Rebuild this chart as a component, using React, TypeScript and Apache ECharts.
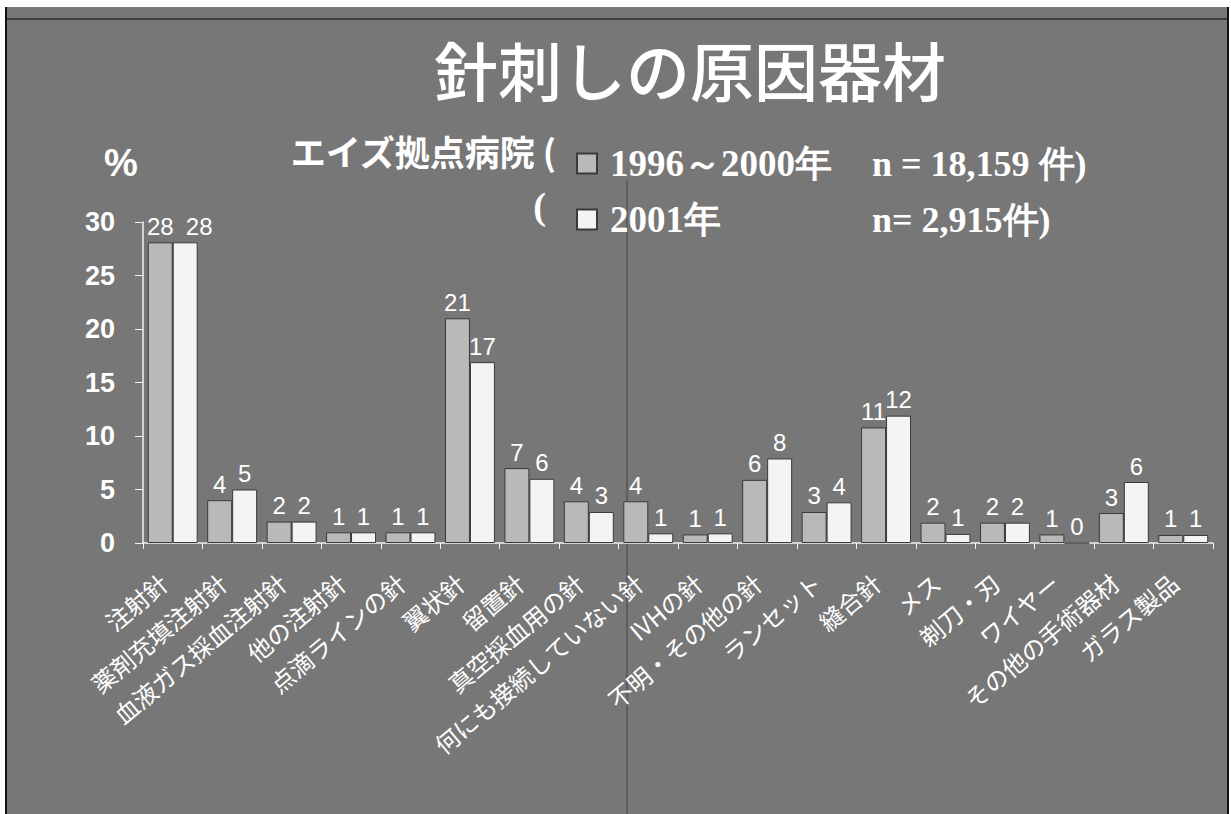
import React, { useEffect, useRef } from "react";
import * as echarts from "echarts";

const categories = [
  "注射針",
  "薬剤充填注射針",
  "血液ガス採血注射針",
  "他の注射針",
  "点滴ラインの針",
  "翼状針",
  "留置針",
  "真空採血用の針",
  "何にも接続していない針",
  "IVHの針",
  "不明・その他の針",
  "ランセット",
  "縫合針",
  "メス",
  "剃刀・刃",
  "ワイヤー",
  "その他の手術器材",
  "ガラス製品",
];

// bar heights (%)
const values1996 = [28.1, 4.0, 2.0, 1.0, 1.0, 21.0, 7.0, 3.9, 3.9, 0.8, 5.9, 2.9, 10.8, 1.9, 1.9, 0.8, 2.8, 0.75];
const values2001 = [28.1, 5.0, 2.0, 1.0, 1.0, 16.9, 6.0, 2.9, 0.9, 0.9, 7.9, 3.8, 11.9, 0.85, 1.9, 0, 5.7, 0.75];

// printed value labels
const labels1996 = [28, 4, 2, 1, 1, 21, 7, 4, 4, 1, 6, 3, 11, 2, 2, 1, 3, 1];
const labels2001 = [28, 5, 2, 1, 1, 17, 6, 3, 1, 1, 8, 4, 12, 1, 2, 0, 6, 1];

const yTicks = [0, 5, 10, 15, 20, 25, 30];

const BG = "#777777";
const GRAY_BAR = "#b9b9b9";
const WHITE_BAR = "#f4f4f4";
const JP = "'Noto Sans CJK JP', 'Noto Sans', sans-serif";
const SERIF = "'Liberation Serif', 'DejaVu Serif', serif";
const SANS = "'Liberation Sans', Arial, sans-serif";

export default function App() {
  const ref = useRef<HTMLDivElement>(null);

  useEffect(() => {
    if (!ref.current) return;
    const chart = echarts.init(ref.current, null, { renderer: "svg" });

    const legendText = (name: string) => {
      if (name === "1996～2000年") return "{a|1996～2000年}{b|n = 18,159 件)}";
      return "{a|2001年}{b|n= 2,915件)}";
    };

    const legendBase = {
      orient: "horizontal" as const,
      itemWidth: 20,
      itemHeight: 20,
      icon: "rect",
      selectedMode: false,
      formatter: legendText,
      textStyle: {
        color: "#ffffff",
        fontFamily: SERIF,
        fontWeight: "bold" as const,
        fontSize: 36,
        rich: {
          a: { color: "#ffffff", fontFamily: SERIF, fontWeight: "bold", fontSize: 37, width: 262, padding: [0, 0, 0, 8] },
          b: { color: "#ffffff", fontFamily: SERIF, fontWeight: "bold", fontSize: 36 },
        },
      },
    };

    // spread the two overlapping "28" labels apart as in the original
    const data2001 = values2001.map((v, i) =>
      i === 0 ? { value: v, label: { offset: [14, 0] } } : v
    );

    chart.setOption({
      animation: false,
      backgroundColor: "#ffffff",
      graphic: [
        { type: "rect", z: -100, shape: { x: 6, y: 7, width: 1222, height: 807 }, style: { fill: BG } },
        { type: "line", z: -90, shape: { x1: 6, y1: 19, x2: 1228, y2: 19 }, style: { stroke: "#2a2a2a", lineWidth: 1.5 } },
        { type: "line", z: -90, shape: { x1: 6, y1: 7, x2: 6, y2: 814 }, style: { stroke: "#111111", lineWidth: 2 } },
        { type: "line", z: -90, shape: { x1: 1228, y1: 7, x2: 1228, y2: 814 }, style: { stroke: "#111111", lineWidth: 2 } },
        { type: "line", z: -90, shape: { x1: 627, y1: 180, x2: 627, y2: 814 }, style: { stroke: "rgba(30,30,30,0.55)", lineWidth: 1 } },
        {
          type: "text",
          x: 690,
          y: 68,
          style: {
            text: "針刺しの原因器材",
            fill: "#ffffff",
            font: `500 64px ${JP}`,
            textAlign: "center",
            textVerticalAlign: "middle",
          },
        },
        {
          type: "text",
          x: 556,
          y: 150,
          style: {
            text: "エイズ拠点病院 (",
            fill: "#ffffff",
            font: `bold 35px ${JP}`,
            textAlign: "right",
            textVerticalAlign: "middle",
          },
        },
        {
          type: "text",
          x: 546,
          y: 206,
          style: {
            text: "(",
            fill: "#ffffff",
            font: `bold 38px ${SERIF}`,
            textAlign: "right",
            textVerticalAlign: "middle",
          },
        },
        {
          type: "text",
          x: 121,
          y: 163,
          style: {
            text: "%",
            fill: "#ffffff",
            font: `bold 38px ${SANS}`,
            textAlign: "center",
            textVerticalAlign: "middle",
          },
        },
      ],
      legend: [
        { ...legendBase, left: 571, top: 140, data: ["1996～2000年"] },
        { ...legendBase, left: 571, top: 196, data: ["2001年"] },
      ],
      grid: { left: 143, right: 18, top: 222, bottom: 271, containLabel: false },
      xAxis: {
        type: "category",
        data: categories,
        axisLine: { show: true, lineStyle: { color: "#f0f0f0", width: 1.5 } },
        axisTick: { show: true, alignWithLabel: false, length: 6, lineStyle: { color: "#f0f0f0" } },
        axisLabel: {
          interval: 0,
          rotate: 40,
          margin: 28,
          padding: [0, 12, 0, 0],
          color: "#ffffff",
          fontFamily: JP,
          fontSize: 24,
        },
      },
      yAxis: {
        type: "value",
        min: yTicks[0],
        max: yTicks[yTicks.length - 1],
        interval: 5,
        splitLine: { show: false },
        axisLine: { show: true, lineStyle: { color: "#f0f0f0", width: 1.5 } },
        axisTick: { show: true, inside: false, length: 8, lineStyle: { color: "#f0f0f0" } },
        axisLabel: {
          margin: 28,
          color: "#ffffff",
          fontFamily: SANS,
          fontWeight: "bold",
          fontSize: 27,
        },
      },
      series: [
        {
          name: "1996～2000年",
          type: "bar",
          data: values1996,
          barGap: "0%",
          barCategoryGap: "16%",
          itemStyle: { color: GRAY_BAR, borderColor: "#3a3a3a", borderWidth: 1 },
          label: {
            show: true,
            position: "top",
            distance: 4,
            color: "#ffffff",
            fontFamily: SANS,
            fontSize: 24,
            formatter: (p: any) => String(labels1996[p.dataIndex]),
          },
        },
        {
          name: "2001年",
          type: "bar",
          data: data2001,
          barGap: "0%",
          barCategoryGap: "16%",
          itemStyle: { color: WHITE_BAR, borderColor: "#3a3a3a", borderWidth: 1 },
          label: {
            show: true,
            position: "top",
            distance: 4,
            color: "#ffffff",
            fontFamily: SANS,
            fontSize: 24,
            formatter: (p: any) => String(labels2001[p.dataIndex]),
          },
        },
      ],
    });

    return () => chart.dispose();
  }, []);

  return (
    <div
      ref={ref}
      style={{ position: "fixed", left: 0, top: 0, width: 1231, height: 814 }}
    />
  );
}
